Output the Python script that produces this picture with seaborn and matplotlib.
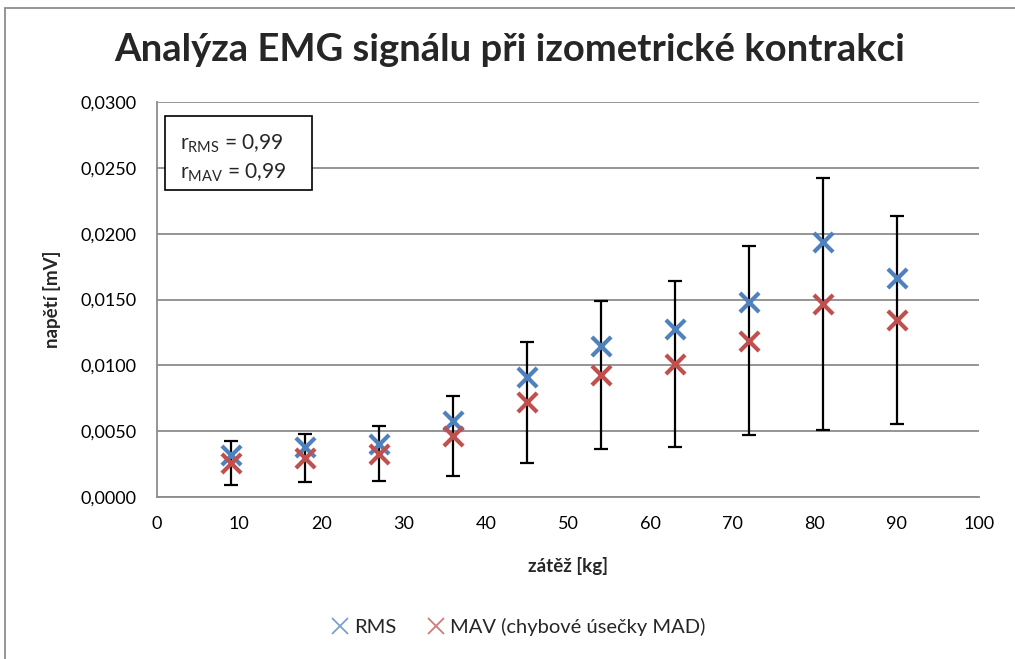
import numpy as np
import pandas as pd
import matplotlib
matplotlib.use("Agg")
import matplotlib.pyplot as plt
import seaborn as sns
from matplotlib.ticker import FuncFormatter, MultipleLocator
from matplotlib.patches import Rectangle
from matplotlib.lines import Line2D

# data
zatez = [9, 18, 27, 36, 45, 54, 63, 72, 81, 90]
rms = [0.00316, 0.00378, 0.00404, 0.0058, 0.00911, 0.01147, 0.01279, 0.01482, 0.01938, 0.01664]
mav = [0.00256, 0.00298, 0.00328, 0.00462, 0.0072, 0.00925, 0.0101, 0.01186, 0.01465, 0.01342]
mad = [0.00167, 0.00184, 0.00209, 0.00304, 0.00458, 0.0056, 0.00632, 0.00718, 0.00956, 0.00789]

title = "Analýza EMG signálu při izometrické kontrakci"
xlabel = "zátěž [kg]"
ylabel = "napětí [mV]"
labels = ["RMS", "MAV (chybové úsečky MAD)"]
r_text = ["r$_{\\mathrm{RMS}}$ = 0,99", "r$_{\\mathrm{MAV}}$ = 0,99"]

blue = "#4F81BD"
red = "#C0504D"
grey = "#8c8c8c"
font = "Lato"

df = pd.DataFrame({"zatez": zatez, "RMS": rms, "MAV": mav, "MAD": mad})

sns.set_style("white")
plt.rcParams["font.family"] = [font, "DejaVu Sans"]
plt.rcParams["mathtext.fontset"] = "custom"
plt.rcParams["mathtext.rm"] = font
plt.rcParams["mathtext.it"] = font

fig = plt.figure(figsize=(10.15, 6.59), dpi=100)
ax = fig.add_axes([157 / 1015, 1 - 497 / 659, 822 / 1015, 395 / 659])

# error bars first so the markers sit on top
ax.errorbar(df["zatez"], df["MAV"], yerr=df["MAD"], fmt="none",
            ecolor="black", elinewidth=1.6, capsize=5, capthick=1.6, zorder=2)
sns.scatterplot(data=df, x="zatez", y="RMS", marker="x", s=190, color=blue,
                linewidth=3, ax=ax, zorder=3, legend=False)
sns.scatterplot(data=df, x="zatez", y="MAV", marker="x", s=190, color=red,
                linewidth=3, ax=ax, zorder=3, legend=False)

ax.set_xlim(0, 100)
ax.set_ylim(0, 0.03)
ax.xaxis.set_major_locator(MultipleLocator(10))
ax.yaxis.set_major_locator(MultipleLocator(0.005))
ax.yaxis.set_major_formatter(FuncFormatter(lambda v, p: f"{v:.4f}".replace(".", ",")))
ax.grid(axis="y", color=grey, linewidth=1.3)
ax.set_axisbelow(True)
for s in ["top", "right"]:
    ax.spines[s].set_visible(False)
for s in ["left", "bottom"]:
    ax.spines[s].set_color(grey)
    ax.spines[s].set_linewidth(1.3)
ax.tick_params(axis="both", direction="out", length=5, width=1.3, color=grey,
               labelsize=13, labelcolor="black")
ax.tick_params(axis="x", pad=9)
ax.tick_params(axis="y", pad=10)

ax.set_xlabel(xlabel, fontsize=13.5, fontweight="bold", labelpad=17.5)
ax.set_ylabel(ylabel, fontsize=13.5, fontweight="bold")
ax.yaxis.set_label_coords(-0.117, 0.5)
fig.text(0.502, 1 - 50 / 659, title, ha="center", va="center", fontsize=27.5, fontweight="bold")

# correlation box
ax.add_patch(Rectangle((0.01, 0.777), 0.178, 0.187, transform=ax.transAxes,
                       facecolor="white", edgecolor="black", linewidth=1.2, zorder=4))
ax.text(0.028, 0.893, r_text[0], transform=ax.transAxes, ha="left", va="center",
        fontsize=15, zorder=5)
ax.text(0.028, 0.82, r_text[1], transform=ax.transAxes, ha="left", va="center",
        fontsize=15, zorder=5)

handles = [Line2D([], [], marker="x", linestyle="none", markersize=11,
                  markeredgewidth=1.3, color=c, alpha=0.75) for c in (blue, red)]
ax.legend(handles, labels, loc="center", bbox_to_anchor=(0.4395, -0.329), ncol=2,
          frameon=False, fontsize=14.5, handlelength=0.9, handletextpad=0.25,
          columnspacing=1.5)

# chart area border
fig.patches.append(Rectangle((5 / 1015, -0.1), 1.2, 0.1 + (659 - 8) / 659,
                             transform=fig.transFigure, fill=False,
                             edgecolor=grey, linewidth=1.3))

fig.savefig("out.png", dpi=100)
